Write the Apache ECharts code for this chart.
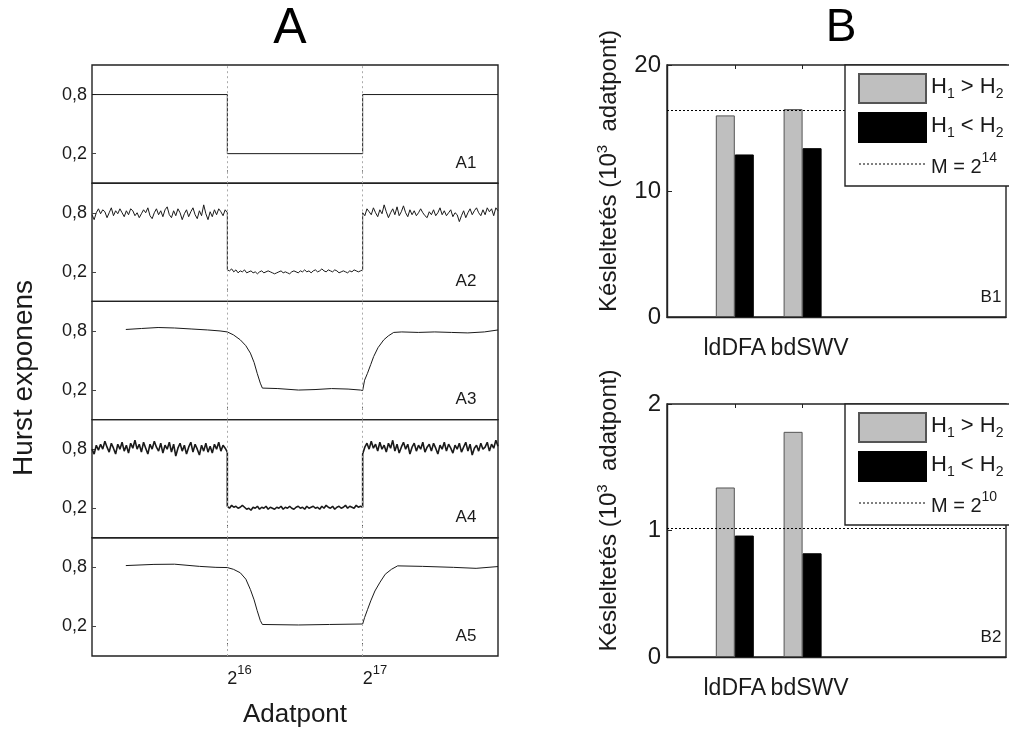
<!DOCTYPE html>
<html>
<head>
<meta charset="utf-8">
<script src="https://cdn.jsdelivr.net/npm/echarts@6/dist/echarts.min.js"></script>
<style>
html,body{margin:0;padding:0;background:#fff;}
#chart{width:1009px;height:731px;}
</style>
</head>
<body>
<div id="chart"></div>
<script>
// ---------------- DATA ----------------
const segEdges = [0, 65536, 131072, 196608];        // 0, 2^16, 2^17, 3*2^16
const boundaries = [65536, 131072];                 // change points (dotted lines / ticks)
const xTickLabels = [['2', '16'], ['2', '17']];
const yTickValues = [0.2, 0.8];
const panelLabels = ['A1', 'A2', 'A3', 'A4', 'A5'];

// A1: ideal step signal
const a1Levels = [0.8, 0.2, 0.8];

// A2: noisy estimate (three segments)
const a2Seg1 = [0.78,0.73,0.80,0.84,0.79,0.83,0.81,0.75,0.80,0.85,0.77,0.82,0.79,0.84,0.80,0.76,
                0.82,0.78,0.84,0.82,0.77,0.80,0.75,0.79,0.83,0.80,0.85,0.77,0.74,0.80,0.84,0.78,
                0.82,0.76,0.83,0.86,0.78,0.75,0.82,0.77,0.84,0.80,0.73,0.79,0.83,0.76,0.81,0.85,
                0.78,0.74,0.82,0.77,0.88,0.79,0.73,0.81,0.76,0.83,0.78,0.84,0.81,0.77,0.83,0.80];
const a2Seg2 = [0.22,0.21,0.23,0.20,0.22,0.19,0.21,0.20,0.22,0.19,0.20,0.21,0.19,0.20,0.18,0.20,
                0.21,0.19,0.20,0.21,0.20,0.19,0.18,0.19,0.20,0.21,0.19,0.20,0.19,0.18,0.20,0.21,
                0.20,0.19,0.21,0.20,0.22,0.20,0.21,0.19,0.21,0.22,0.20,0.21,0.23,0.21,0.20,0.22,
                0.21,0.20,0.22,0.21,0.19,0.20,0.21,0.20,0.19,0.21,0.20,0.22,0.21,0.20,0.21,0.22];
const a2Seg3 = [0.80,0.77,0.84,0.81,0.78,0.85,0.80,0.76,0.83,0.79,0.88,0.81,0.75,0.80,0.84,0.78,
                0.86,0.77,0.81,0.87,0.80,0.76,0.83,0.78,0.82,0.77,0.80,0.84,0.80,0.77,0.75,0.81,
                0.78,0.83,0.77,0.80,0.85,0.78,0.82,0.77,0.80,0.83,0.76,0.80,0.78,0.71,0.77,0.82,
                0.75,0.80,0.84,0.78,0.82,0.85,0.80,0.77,0.83,0.78,0.85,0.81,0.84,0.77,0.85,0.82];

// A3: smooth estimate
const a3X = [16384,24000,32000,40000,48000,56000,62000,65536,68500,71800,74500,76700,78500,80000,81500,82500,
             90000,100000,108000,116000,124000,130000,131072,132000,133400,135000,136400,138500,141300,143500,
             146100,150000,158000,166000,174000,182000,190000,196608];
const a3Y = [0.815,0.825,0.835,0.83,0.82,0.81,0.80,0.79,0.76,0.71,0.65,0.575,0.48,0.37,0.27,0.22,
             0.215,0.20,0.205,0.215,0.21,0.20,0.195,0.30,0.37,0.46,0.54,0.63,0.71,0.75,
             0.785,0.79,0.785,0.79,0.785,0.78,0.79,0.81];

// A4: noisy estimate (three segments)
const a4Seg1 = [0.80,0.75,0.84,0.79,0.85,0.80,0.88,0.82,0.77,0.86,0.81,0.75,0.85,0.80,0.87,0.78,
                0.84,0.76,0.86,0.81,0.89,0.80,0.85,0.77,0.87,0.81,0.75,0.85,0.80,0.88,0.82,0.78,
                0.86,0.76,0.84,0.80,0.87,0.77,0.85,0.73,0.81,0.86,0.78,0.84,0.75,0.82,0.87,0.77,
                0.85,0.80,0.74,0.84,0.78,0.86,0.77,0.83,0.76,0.85,0.80,0.87,0.78,0.84,0.81,0.77];
const a4Seg2 = [0.22,0.20,0.23,0.21,0.22,0.20,0.21,0.23,0.21,0.19,0.20,0.18,0.21,0.20,0.22,0.19,
                0.21,0.20,0.22,0.19,0.21,0.20,0.19,0.21,0.20,0.22,0.19,0.21,0.20,0.22,0.20,0.19,
                0.21,0.22,0.20,0.21,0.19,0.22,0.20,0.21,0.22,0.20,0.21,0.19,0.22,0.20,0.23,0.21,
                0.20,0.22,0.19,0.21,0.22,0.20,0.21,0.23,0.20,0.22,0.21,0.20,0.23,0.21,0.22,0.21];
const a4Seg3 = [0.75,0.82,0.86,0.80,0.88,0.81,0.85,0.78,0.87,0.80,0.84,0.77,0.86,0.81,0.89,0.78,
                0.85,0.76,0.82,0.87,0.80,0.85,0.75,0.82,0.86,0.78,0.84,0.80,0.87,0.77,0.82,0.85,
                0.78,0.86,0.81,0.75,0.84,0.80,0.87,0.78,0.85,0.81,0.76,0.84,0.80,0.86,0.77,0.82,
                0.87,0.78,0.85,0.74,0.81,0.84,0.78,0.86,0.80,0.82,0.87,0.78,0.85,0.81,0.89,0.83];

// A5: smooth estimate
const a5X = [16384,30000,40000,52000,60000,65536,68500,71800,74500,76700,78500,80000,81500,82500,
             100000,115000,131072,132000,133400,135000,137000,139500,142000,145000,148000,
             160000,175000,186000,196608];
const a5Y = [0.818,0.83,0.832,0.81,0.80,0.798,0.78,0.745,0.68,0.575,0.47,0.36,0.26,0.22,
             0.215,0.22,0.225,0.29,0.37,0.46,0.56,0.65,0.73,0.78,0.815,
             0.81,0.80,0.79,0.808];

// B: delays (10^3 data points)
const methods = ['ldDFA', 'bdSWV'];
const b1Up = [16.0, 16.5];
const b1Down = [12.9, 13.4];
const b1M = 16.384;   // 2^14 / 1000
const b2Up = [1.34, 1.78];
const b2Down = [0.96, 0.82];
const b2M = 1.024;    // 2^10 / 1000

// ---------------- BUILD ----------------
const FONT = 'Liberation Sans';
const INK = '#1a1a1a';

function stepPairs(levels) {
  const out = [];
  levels.forEach((v, s) => { out.push([segEdges[s], v]); out.push([segEdges[s + 1], v]); });
  return out;
}
function segPairs(segs) {
  const out = [];
  segs.forEach((arr, s) => {
    const a = segEdges[s], b = segEdges[s + 1];
    arr.forEach((v, k) => out.push([a + k * (b - a) / (arr.length - 1), v]));
  });
  return out;
}
function xyPairs(xs, ys) { return xs.map((x, i) => [x, ys[i]]); }

const aData = [
  stepPairs(a1Levels),
  segPairs([a2Seg1, a2Seg2, a2Seg3]),
  xyPairs(a3X, a3Y),
  segPairs([a4Seg1, a4Seg2, a4Seg3]),
  xyPairs(a5X, a5Y)
];
const aWidths = [1, 1, 1, 1.6, 1];

const A_LEFT = 92, A_WIDTH = 406, A_TOP = 65, A_H = 118.2;
const grids = [], xAxes = [], yAxes = [], series = [], graphics = [];

for (let i = 0; i < 5; i++) {
  const top = A_TOP + i * A_H;
  grids.push({ left: A_LEFT, width: A_WIDTH, top: top, height: A_H, show: true,
               borderColor: '#222', borderWidth: 1.4, backgroundColor: 'transparent' });
  const last = i === 4;
  xAxes.push({
    type: 'value', gridIndex: i, min: segEdges[0], max: segEdges[3],
    axisLine: { show: false }, splitLine: { show: false },
    axisTick: { show: true, inside: true, length: 3, customValues: boundaries, lineStyle: { color: '#444' } },
    axisLabel: last ? {
      show: true, customValues: boundaries, align: 'left', margin: 8, color: INK,
      formatter: function (v) { const idx = boundaries.indexOf(v); const t = xTickLabels[idx];
        return '{b|' + t[0] + '}{s|' + t[1] + '}'; },
      rich: { b: { fontSize: 18, lineHeight: 24, verticalAlign: 'bottom', color: INK, fontFamily: FONT },
              s: { fontSize: 13, lineHeight: 14, verticalAlign: 'top', color: INK, fontFamily: FONT } }
    } : { show: false },
    name: last ? 'Adatpont' : '', nameLocation: 'middle', nameGap: 46,
    nameTextStyle: { fontSize: 26, color: INK, fontFamily: FONT }
  });
  yAxes.push({
    type: 'value', gridIndex: i, min: -0.1, max: 1.1,
    axisLine: { show: false }, splitLine: { show: false },
    axisTick: { show: true, inside: true, length: 4, customValues: yTickValues, lineStyle: { color: '#444' } },
    axisLabel: { show: true, customValues: yTickValues, margin: 5, fontSize: 18, color: INK, fontFamily: FONT,
                 formatter: v => String(v).replace('.', ',') },
    name: i === 2 ? 'Hurst exponens' : '', nameLocation: 'middle', nameGap: 54, nameRotate: 90,
    nameTextStyle: { fontSize: 28, color: INK, fontFamily: FONT, padding: [0, 35, 0, 0] }
  });
  series.push({
    type: 'line', xAxisIndex: i, yAxisIndex: i, data: aData[i], symbol: 'none',
    lineStyle: { color: INK, width: aWidths[i] }, silent: true, z: 3,
    markLine: { silent: true, symbol: ['none', 'none'], label: { show: false },
                lineStyle: { color: '#aaa', type: [2, 3], width: 1 },
                data: boundaries.map(x => ({ xAxis: x })) }
  });
  graphics.push({ type: 'text', x: 466, y: top + A_H - 20,
    style: { text: panelLabels[i], fontSize: 17, fontFamily: FONT, fill: INK, align: 'center', verticalAlign: 'middle' } });
}

// B panels
const cats = ['', methods[0], methods[1], '', '', ''];
const bDefs = [
  { top: 65, height: 252, up: b1Up, down: b1Down, m: b1M, max: 20, interval: 10, mName: 'M = 2^14', label: 'B1' },
  { top: 404, height: 253, up: b2Up, down: b2Down, m: b2M, max: 2, interval: 1, mName: 'M = 2^10', label: 'B2' }
];
const legends = [];
const dotted = { color: '#000', width: 1, type: [2, 2] };
bDefs.forEach((d, j) => {
  const gi = 5 + j;
  grids.push({ left: 667, width: 350, top: d.top, height: d.height, show: true,
               borderColor: '#222', borderWidth: 1.4, backgroundColor: 'transparent' });
  xAxes.push({
    type: 'category', gridIndex: gi, data: cats, boundaryGap: false,
    axisLine: { show: true, lineStyle: { color: '#222', width: 1.4 } },
    axisTick: { show: false }, splitLine: { show: false },
    axisLabel: { show: true, interval: 0, margin: 20, color: INK, fontFamily: FONT,
      formatter: function (v) { if (!v) return ''; return v === methods[0] ? '{a|' + v + '}' : '{b|' + v + '}'; },
      rich: { a: { fontSize: 23, color: INK, fontFamily: FONT },
              b: { fontSize: 23, color: INK, fontFamily: FONT, padding: [0, 0, 0, 14] } } }
  });
  // mirrored ticks on top frame at category positions
  xAxes.push({
    type: 'category', gridIndex: gi, data: cats, boundaryGap: false, position: 'top',
    axisLine: { show: false }, splitLine: { show: false }, axisLabel: { show: false },
    axisTick: { show: true, inside: true, length: 4, interval: (idx) => cats[idx] !== '', lineStyle: { color: '#222' } }
  });
  yAxes.push({
    type: 'value', gridIndex: gi, min: 0, max: d.max, interval: d.interval,
    axisLine: { show: true, lineStyle: { color: '#222', width: 1.4 } }, splitLine: { show: false },
    axisTick: { show: true, inside: true, length: 5, lineStyle: { color: '#222' } },
    axisLabel: { margin: 6, fontSize: 24, color: INK, fontFamily: FONT },
    name: 'Késleltetés (10{sup|3}  adatpont)', nameLocation: 'middle', nameGap: 44, nameRotate: 90,
    nameTextStyle: { fontSize: 24, color: INK, fontFamily: FONT, lineHeight: 28, padding: [0, 0, 0, 40],
                     rich: { sup: { fontSize: 15, lineHeight: 14, verticalAlign: 'top', color: INK, fontFamily: FONT } } }
  });
  const xi = 5 + 2 * j;
  const upData = cats.map(() => null), downData = cats.map(() => null);
  methods.forEach((mname, k) => { upData[k + 1] = d.up[k]; downData[k + 1] = d.down[k]; });
  series.push({ type: 'bar', name: 'H1 > H2', xAxisIndex: xi, yAxisIndex: gi, data: upData,
    barWidth: 19, barGap: '0%', itemStyle: { color: '#bfbfbf', borderColor: '#555', borderWidth: 1 }, silent: true });
  series.push({ type: 'bar', name: 'H1 < H2', xAxisIndex: xi, yAxisIndex: gi, data: downData,
    barWidth: 19, barGap: '0%', itemStyle: { color: '#000', borderColor: '#000', borderWidth: 1 }, silent: true });
  series.push({ type: 'line', name: d.mName, xAxisIndex: xi, yAxisIndex: gi, data: [], symbol: 'none',
    itemStyle: { color: '#000' }, lineStyle: dotted, silent: true,
    markLine: { silent: true, symbol: ['none', 'none'], label: { show: false },
                lineStyle: dotted, data: [{ yAxis: d.m }] } });
  legends.push({
    orient: 'vertical', left: 845, top: d.top, padding: [8, 40, 9, 13], itemGap: 8,
    itemWidth: 67, itemHeight: 29, backgroundColor: '#fff', borderColor: '#222', borderWidth: 1.4,
    selectedMode: false, z: 10,
    data: [{ name: 'H1 > H2', icon: 'rect' }, { name: 'H1 < H2', icon: 'rect' },
           { name: d.mName, itemStyle: { color: 'rgba(0,0,0,0)', borderColor: 'rgba(0,0,0,0)', borderWidth: 0, opacity: 0 },
             lineStyle: dotted }],
    formatter: function (name) {
      if (name.indexOf('M = ') === 0) { const p = name.split('^'); return '{mb|' + p[0] + '}{mp|' + p[1] + '}'; }
      const op = name.indexOf('>') >= 0 ? '>' : '<';
      return '{h|H}{s|1}{h| ' + op + ' H}{s|2}';
    },
    textStyle: { color: INK, fontFamily: FONT, fontSize: 22,
      rich: {
        h: { fontSize: 22, lineHeight: 26, verticalAlign: 'top', color: INK, fontFamily: FONT },
        s: { fontSize: 14, lineHeight: 14, verticalAlign: 'bottom', color: INK, fontFamily: FONT },
        mb: { fontSize: 20, lineHeight: 26, verticalAlign: 'bottom', color: INK, fontFamily: FONT },
        mp: { fontSize: 14, lineHeight: 14, verticalAlign: 'top', color: INK, fontFamily: FONT }
      } }
  });
  graphics.push({ type: 'text', x: 991, y: d.top + d.height - 20, z: 20,
    style: { text: d.label, fontSize: 17, fontFamily: FONT, fill: INK, align: 'center', verticalAlign: 'middle' } });
});

graphics.push({ type: 'text', x: 290, y: 29,
  style: { text: 'A', fontSize: 50, fontFamily: FONT, fill: '#000', align: 'center', verticalAlign: 'middle' } });
graphics.push({ type: 'text', x: 841, y: 28,
  style: { text: 'B', fontSize: 46, fontFamily: FONT, fill: '#000', align: 'center', verticalAlign: 'middle' } });

const chart = echarts.init(document.getElementById('chart'), null, { renderer: 'canvas' });
chart.setOption({
  animation: false,
  backgroundColor: '#fff',
  textStyle: { fontFamily: FONT },
  grid: grids, xAxis: xAxes, yAxis: yAxes, series: series, legend: legends,
  graphic: graphics
});
</script>
</body>
</html>
